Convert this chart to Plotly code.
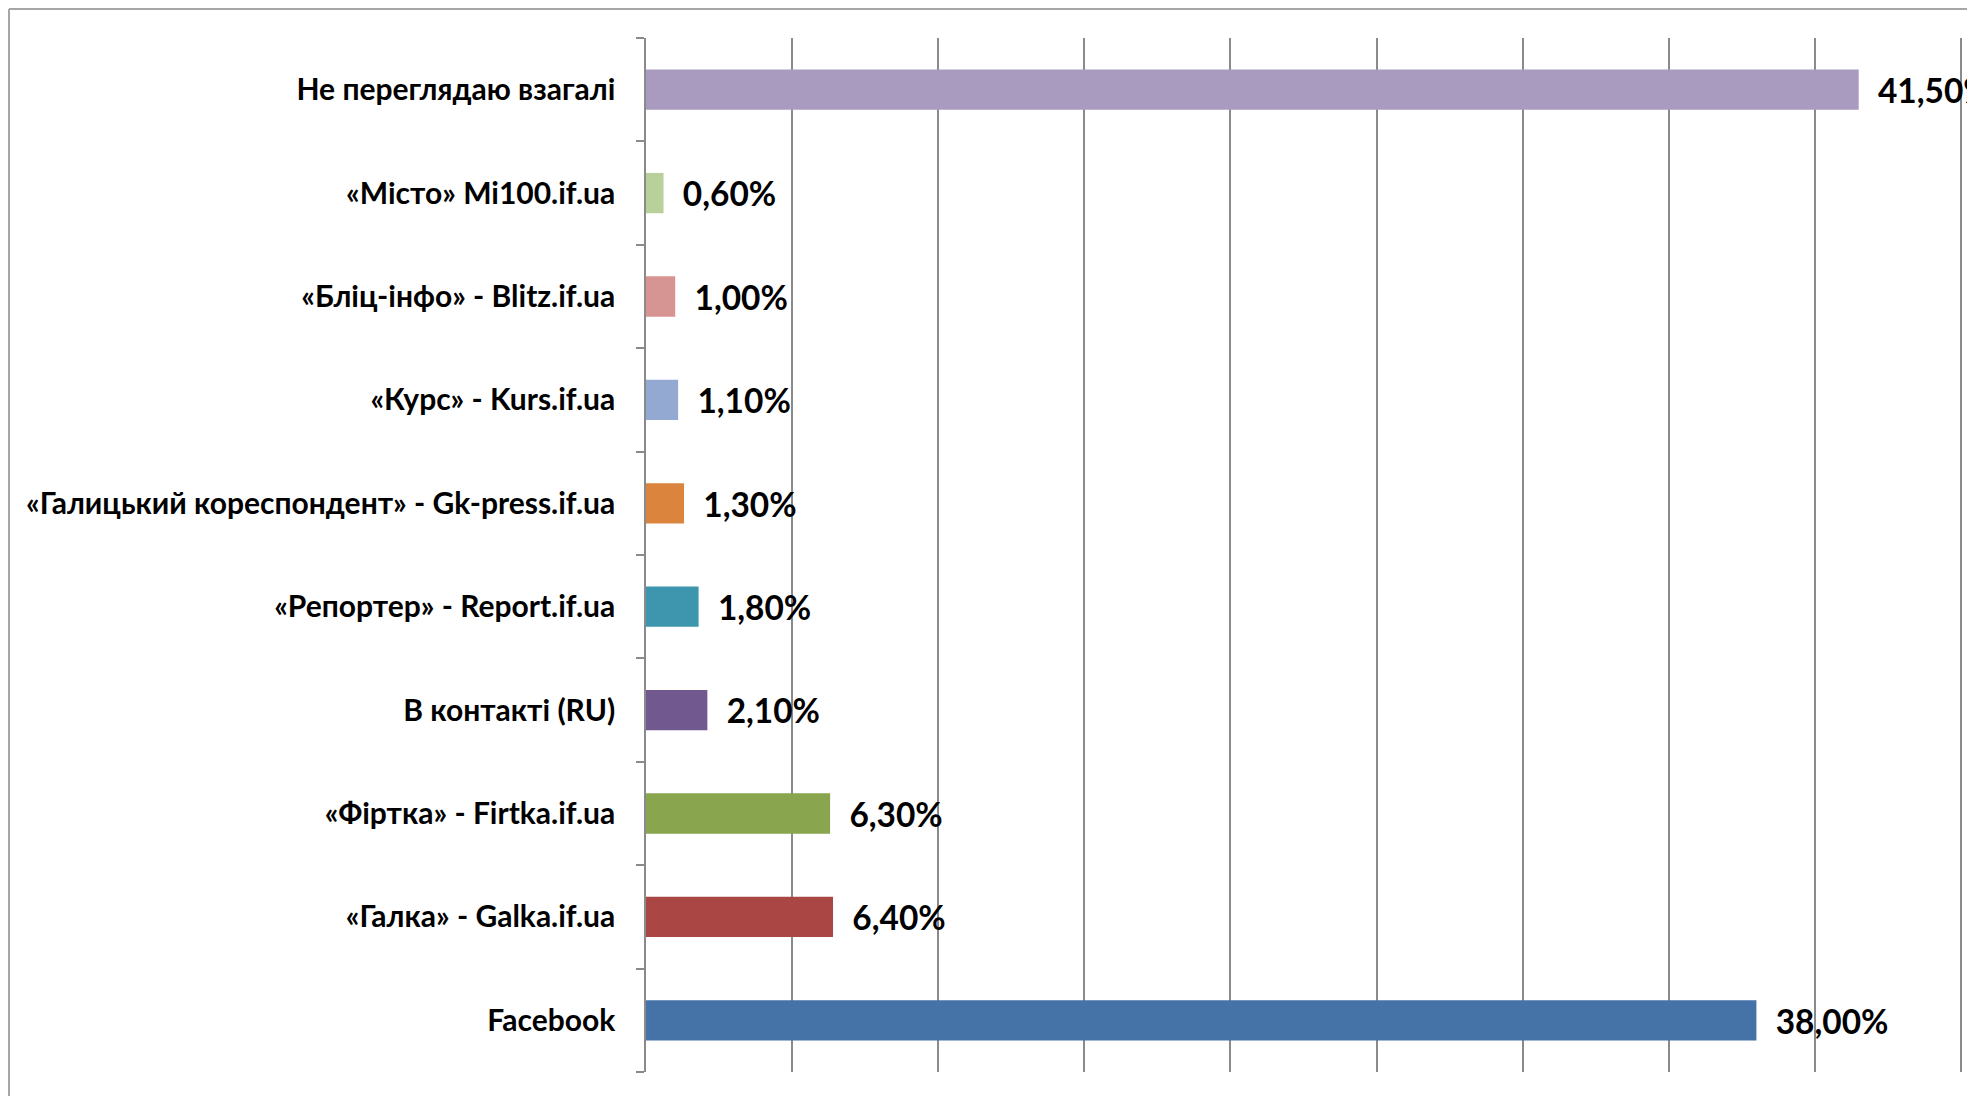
import plotly.graph_objects as go

categories = [
    "Facebook",
    "«Галка» - Galka.if.ua",
    "«Фіртка» - Firtka.if.ua",
    "В контакті (RU)",
    "«Репортер» - Report.if.ua",
    "«Галицький кореспондент» - Gk-press.if.ua",
    "«Курс» - Kurs.if.ua",
    "«Бліц-інфо» - Blitz.if.ua",
    "«Місто» Mi100.if.ua",
    "Не переглядаю взагалі",
]
values = [38.0, 6.4, 6.3, 2.1, 1.8, 1.3, 1.1, 1.0, 0.6, 41.5]
colors = ["#4572A7", "#AA4643", "#89A54E", "#71588F", "#3D96AE",
          "#DB843D", "#94A9D1", "#D69593", "#B8D19A", "#A99BC0"]
x_ticks = [0, 5, 10, 15, 20, 25, 30, 35, 40, 45]

labels = ["\u00a0\u00a0" + f"{v:.2f}%".replace(".", ",") for v in values]

OFF = 8  # default page body margin
W, H = 1975 - OFF, 1096 - OFF
left, top, bottom = 646 - OFF, 38 - OFF, 24

fig = go.Figure(go.Bar(
    y=categories, x=values, orientation="h",
    marker=dict(color=colors, line=dict(width=0)),
    text=labels, textposition="outside", cliponaxis=True,
    textfont=dict(family="Lato", size=34, color="#000000", weight="bold"),
    width=0.39,
))

fig.update_layout(
    width=W, height=H,
    margin=dict(l=left, r=0, t=top, b=bottom, pad=0),
    plot_bgcolor="white", paper_bgcolor="white",
    showlegend=False,
    font=dict(family="Lato", color="#000000"),
    xaxis=dict(range=[0, 45.48], tickvals=x_ticks, showticklabels=False,
               showgrid=True, gridcolor="#8a8a8a", gridwidth=1.5,
               zeroline=False, showline=False, ticks=""),
    yaxis=dict(tickfont=dict(family="Lato", size=30, color="#000000", weight="bold"),
               showline=True, linecolor="#8a8a8a", linewidth=1.5,
               ticks="outside", tickson="boundaries", ticklen=8,
               tickcolor="#8a8a8a", tickwidth=1.5, ticklabelstandoff=23,
               showgrid=False, zeroline=False),
)

pw = W - left
ph = H - top - bottom
x0 = (9 - OFF - left) / pw
y1 = (H - bottom - (9 - OFF)) / ph
fig.add_shape(type="line", xref="paper", yref="paper", x0=x0, x1=x0, y0=-0.2, y1=y1,
              line=dict(color="#a6a6a6", width=2))
fig.add_shape(type="line", xref="paper", yref="paper", x0=x0, x1=1.2, y0=y1, y1=y1,
              line=dict(color="#a6a6a6", width=2))

fig.write_html("out.html")
